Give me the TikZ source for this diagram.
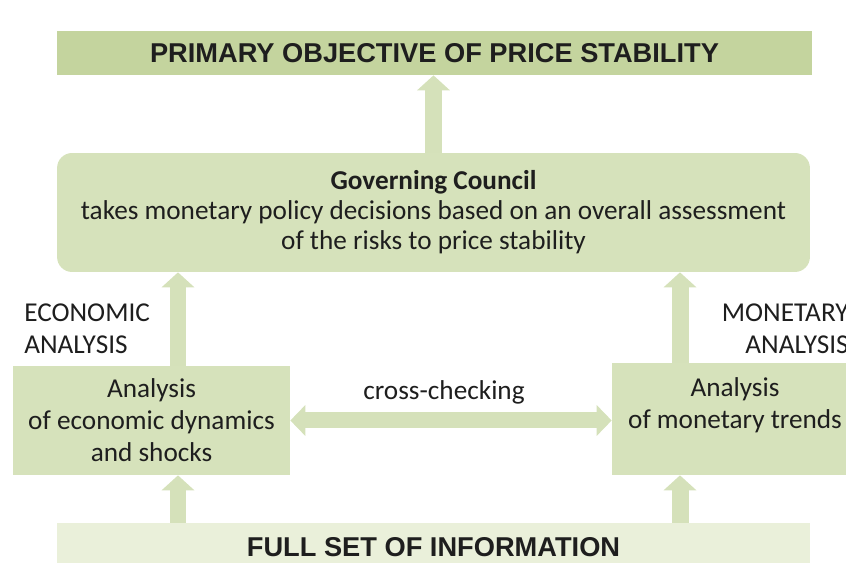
\documentclass[tikz,border=0pt]{standalone}
\usepackage{fontspec}
\setmainfont{Carlito}
\newfontfamily\capsfont{Liberation Sans}
\usetikzlibrary{arrows.meta}
\definecolor{topgreen}{RGB}{196,212,158}
\definecolor{boxgreen}{RGB}{214,226,187}
\definecolor{lowgreen}{RGB}{234,240,218}
\definecolor{arrowgreen}{RGB}{213,225,186}
\definecolor{inkgray}{RGB}{30,30,30}
\tikzset{
  capsbox/.style={inner sep=0pt,text=inkgray,font=\capsfont\bfseries\fontsize{15.5}{18}\selectfont},
  textbox/.style={inner sep=0pt,align=center,text=inkgray,font=\fontsize{15.5}{18.2}\selectfont},
  plaintext/.style={inner sep=0pt,text=inkgray,font=\fontsize{15.5}{18.2}\selectfont},
  flow/.style={draw=arrowgreen,line width=0.34cm,-{Triangle[width=0.64cm,length=0.3cm]}},
  twoway/.style={draw=arrowgreen,line width=0.32cm,{Triangle[width=0.6cm,length=0.3cm]}-{Triangle[width=0.6cm,length=0.3cm]}}
}
\begin{document}
\begin{tikzpicture}[x=0.02cm,y=-0.02cm]
\useasboundingbox (0,0) rectangle (846,563);
\clip (0,0) rectangle (846,563);
\node[capsbox,fill=topgreen,minimum width=15.1cm,minimum height=0.88cm] (goal) at (434.5,53) {PRIMARY OBJECTIVE OF PRICE STABILITY};
\node[textbox,fill=boxgreen,rounded corners=0.3cm,minimum width=15.06cm,minimum height=2.38cm,font=\fontsize{15.5}{17}\selectfont] (council) at (433.5,212.5) {\textbf{Governing Council}\\takes monetary policy decisions based on an overall assessment\\of the risks to price stability};
\node[textbox,fill=boxgreen,minimum width=5.54cm,minimum height=2.18cm] (econ) at (151.5,420.5) {Analysis\\of economic dynamics\\and shocks};
\node[textbox,fill=boxgreen,minimum width=4.92cm,minimum height=2.24cm] (mon) at (735,419) {Analysis\\of monetary trends\\~};
\node[capsbox,fill=lowgreen,minimum width=15.06cm,minimum height=0.96cm] (info) at (433.5,547) {FULL SET OF INFORMATION};
\node[plaintext,anchor=west,align=left] (econlbl) at (24,329) {ECONOMIC\\ANALYSIS};
\node[plaintext,anchor=east,align=right] (monlbl) at (849,329) {MONETARY\\ANALYSIS};
\node[plaintext] (check) at (444,392) {cross-checking};
\coordinate (lx) at (178,0);
\coordinate (rx) at (680,0);
\draw[flow] (council.north) -- (council.north |- goal.south);
\draw[flow] (econ.north -| lx) -- (council.south -| lx);
\draw[flow] (mon.north -| rx) -- (council.south -| rx);
\draw[flow] (info.north -| lx) -- (econ.south -| lx);
\draw[flow] (info.north -| rx) -- (mon.south -| rx);
\draw[twoway] (econ.east) -- (econ.east -| mon.west);
\end{tikzpicture}
\end{document}
